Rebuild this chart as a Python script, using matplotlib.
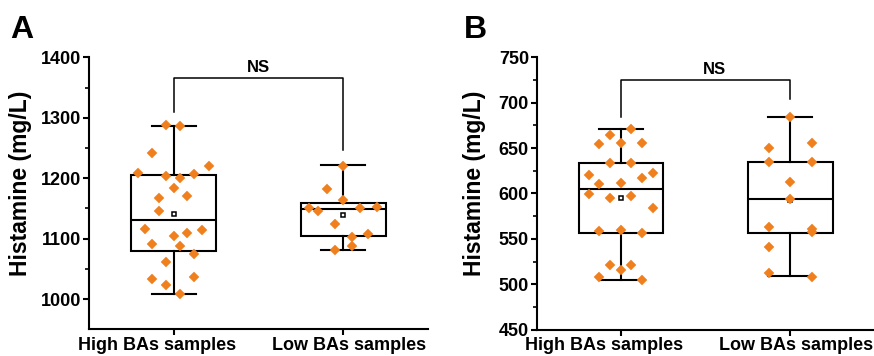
import matplotlib

matplotlib.use("Agg")
import matplotlib.pyplot as plt
import numpy as np

plt.rcParams["font.family"] = ["Liberation Sans", "DejaVu Sans"]
plt.rcParams["font.weight"] = "bold"

ORANGE = "#F07F1E"

groups = ["High BAs samples", "Low BAs samples"]

# panel A: histamine, individual samples (mg/L) and horizontal jitter
a_high = [1288, 1286, 1241, 1209, 1203, 1200, 1207, 1221, 1184, 1168, 1171, 1146,
          1116, 1105, 1110, 1114, 1091, 1087, 1074, 1061, 1034, 1037, 1023, 1008]
a_high_jit = [-0.044, 0.039, -0.126, -0.21, -0.044, 0.039, 0.12, 0.206, 0.0, -0.087, 0.08, -0.087,
              -0.17, 0.0, 0.08, 0.165, -0.126, 0.039, 0.12, -0.044, -0.126, 0.12, -0.044, 0.039]
a_low = [1221, 1182, 1164, 1151, 1146, 1151, 1153, 1124, 1103, 1108, 1088, 1081]
a_low_jit = [0.0, -0.098, 0.0, -0.2, -0.15, 0.098, 0.197, -0.05, 0.049, 0.147, 0.049, -0.05]
# box summaries
a_q1 = [1080, 1105]
a_med = [1131, 1149]
a_q3 = [1205, 1159]
a_lo = [1008, 1081]
a_hi = [1287, 1222]

# panel B
b_high = [670.7, 664.4, 654.5, 655.6, 656, 633.9, 633.2, 620.4, 610, 611.9, 617.4, 623,
          599.1, 595, 596.9, 583.7, 558.7, 559.8, 556.2, 521.6, 521.3, 515.8, 508.4, 504.7]
b_high_jit = [0.059, -0.065, -0.129, 0.0, 0.125, -0.065, 0.059, -0.19, -0.129, 0.0, 0.125, 0.187,
              -0.19, -0.065, 0.059, 0.187, -0.129, 0.0, 0.125, -0.065, 0.059, 0.0, -0.129, 0.125]
b_low = [684.6, 649.8, 655.3, 635.1, 634.4, 612.4, 594, 563.4, 560.6, 557.3, 541.4, 512.1, 508.4]
b_low_jit = [0.0, -0.125, 0.126, -0.125, 0.126, 0.0, 0.0, -0.125, 0.126, 0.126, -0.125, -0.125, 0.126]
b_q1 = [557, 557]
b_med = [604.6, 594]
b_q3 = [633.6, 635]
b_lo = [504.7, 508.8]
b_hi = [671, 684.3]

# significance brackets: (left leg bottom, right leg bottom, top)
a_bracket = (1309, 1247, 1366)
b_bracket = (684, 704, 725)

a_yticks = [1000, 1100, 1200, 1300, 1400]
a_yminor = [1050, 1150, 1250, 1350]
b_yticks = [450, 500, 550, 600, 650, 700, 750]
b_yminor = [475, 525, 575, 625, 675, 725]


def draw_panel(ax, samples, jitters, q1, med, q3, lo, hi, bracket, ylim, yticks, yminor,
               ns_x, letter):
    stats = []
    for i in range(2):
        stats.append(dict(q1=q1[i], med=med[i], q3=q3[i], whislo=lo[i], whishi=hi[i],
                          mean=float(np.mean(samples[i])), fliers=[]))
    lw = 1.5
    ax.bxp(stats, positions=[0, 1], widths=0.5, showmeans=False, showfliers=False,
           patch_artist=True,
           boxprops=dict(facecolor="white", edgecolor="black", linewidth=lw),
           medianprops=dict(color="black", linewidth=lw),
           whiskerprops=dict(color="black", linewidth=lw),
           capprops=dict(color="black", linewidth=lw), capwidths=0.26,
           zorder=2)
    for i in range(2):
        ax.plot(i, stats[i]["mean"], marker="s", ms=3.2, mfc="white", mec="black",
                mew=1.1, zorder=3)
        xs = i + np.asarray(jitters[i])
        ax.plot(xs, samples[i], ls="none", marker="D", ms=4.7, color=ORANGE,
                mec=ORANGE, mew=0.3, zorder=4)

    l, r, top = bracket
    ax.plot([0, 0, 1, 1], [l, top, top, r], color="black", lw=1.1, zorder=2)
    ax.annotate("NS", (ns_x, top), xytext=(0, 4), textcoords="offset points",
                ha="center", va="baseline", fontsize=12, fontweight="bold")

    ax.set_xlim(-0.5, 1.5)
    ax.set_ylim(*ylim)
    ax.set_yticks(yticks)
    ax.set_yticks(yminor, minor=True)
    ax.set_xticks([0, 1])
    ax.set_xticklabels([])
    # group labels sit a little apart from the ticks in the original
    for i, dx in zip(range(2), (-12.2, 4.3)):
        ax.annotate(groups[i], (i, 0), xycoords=ax.get_xaxis_transform(),
                    xytext=(dx, -5.5), textcoords="offset points",
                    ha="center", va="top", fontsize=13, fontweight="bold")
    for lab in ax.get_yticklabels():
        lab.set_fontsize(13)
        lab.set_fontweight("bold")
    ax.spines[["top", "right"]].set_visible(False)
    for s in ("left", "bottom"):
        ax.spines[s].set_linewidth(1.5)
    ax.tick_params(axis="y", which="major", length=4.5, width=1.5, pad=1)
    ax.tick_params(axis="y", which="minor", length=3, width=1.2)
    ax.tick_params(axis="x", length=4.5, width=1.5, pad=1)
    ax.set_ylabel("Histamine (mg/L)", fontsize=16.5, fontweight="bold")
    ax.figure.text(letter[1], 0.893, letter[0], fontsize=23, fontweight="bold",
                   va="baseline")


fig = plt.figure(figsize=(8.74, 3.56), dpi=100)
ax_a = fig.add_axes([0.1018, 0.075, 0.3879, 0.764])
ax_b = fig.add_axes([0.614, 0.074, 0.387, 0.765])

draw_panel(ax_a, [a_high, a_low], [a_high_jit, a_low_jit], a_q1, a_med, a_q3, a_lo, a_hi,
           a_bracket, (950, 1400), a_yticks, a_yminor, 0.5, ("A", 0.012))
draw_panel(ax_b, [b_high, b_low], [b_high_jit, b_low_jit], b_q1, b_med, b_q3, b_lo, b_hi,
           b_bracket, (450, 750), b_yticks, b_yminor, 0.553, ("B", 0.531))

ax_a.yaxis.set_label_coords(-0.169, 0.536)
ax_b.yaxis.set_label_coords(-0.151, 0.537)

fig.savefig("out.png", dpi=100)
